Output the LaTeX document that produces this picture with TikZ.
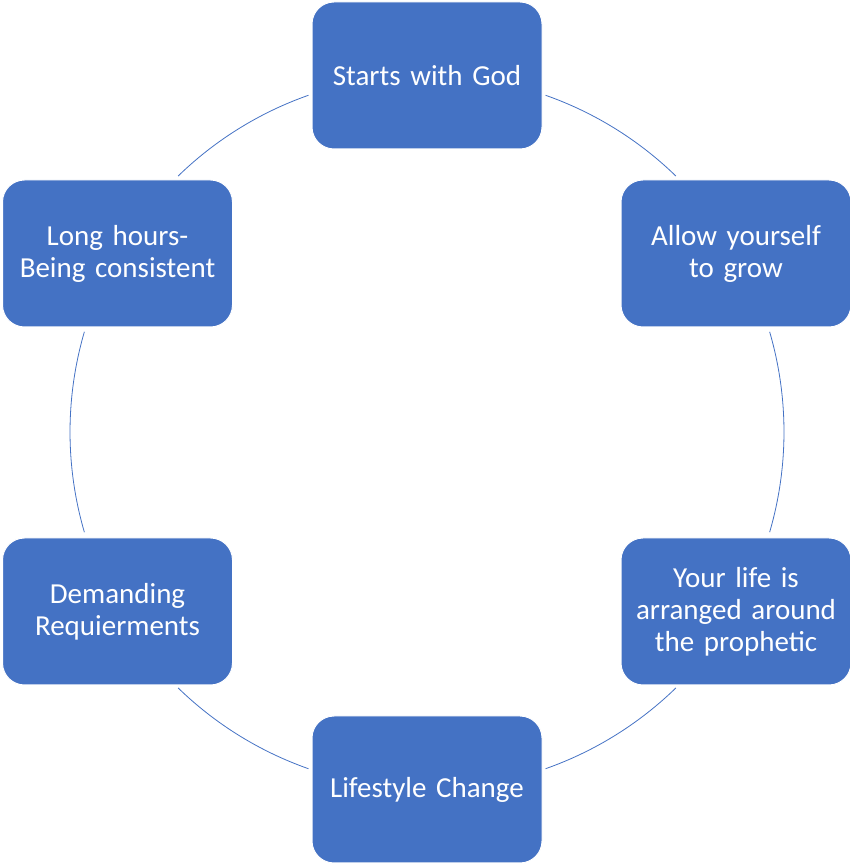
\documentclass[tikz,border=0pt]{standalone}
\usepackage{fontspec}
\setmainfont{Carlito}
\usetikzlibrary{calc}
\definecolor{boxblue}{HTML}{4472C4}
\tikzset{
  cyclebox/.style={rectangle, rounded corners=22pt, fill=boxblue, draw=white, line width=1pt,
    minimum width=230pt, minimum height=147pt, text width=220pt, align=center, inner sep=0pt,
    text=white, font=\fontsize{29}{32}\selectfont},
  arcline/.style={draw=boxblue, line width=0.8pt}
}
\begin{document}
\begin{tikzpicture}[x=1pt,y=1pt]
\useasboundingbox (0,0) rectangle (850,867);
\coordinate (c) at (427,435);
\node[cyclebox] (n1) at (427,791.5) {Starts with God};
\node[cyclebox] (n2) at (736,613.5) {Allow yourself\\to grow};
\node[cyclebox] (n3) at (736,255.5) {Your life is\\arranged around\\the prophetic};
\node[cyclebox] (n4) at (427,77.5) {Lifestyle Change};
\node[cyclebox] (n5) at (117.5,255.5) {Demanding\\Requierments};
\node[cyclebox] (n6) at (117.5,613.5) {Long hours-\\Being consistent};
\draw[arcline] ($(c)+(70.6:357pt)$) arc[start angle=70.6, end angle=45.8, radius=357pt];
\draw[arcline] ($(c)+(16.3:357pt)$) arc[start angle=16.3, end angle=-16.3, radius=357pt];
\draw[arcline] ($(c)+(-45.8:357pt)$) arc[start angle=-45.8, end angle=-70.6, radius=357pt];
\draw[arcline] ($(c)+(-109.4:357pt)$) arc[start angle=-109.4, end angle=-134.2, radius=357pt];
\draw[arcline] ($(c)+(-163.7:357pt)$) arc[start angle=-163.7, end angle=-196.3, radius=357pt];
\draw[arcline] ($(c)+(134.2:357pt)$) arc[start angle=134.2, end angle=109.4, radius=357pt];
\end{tikzpicture}
\end{document}
